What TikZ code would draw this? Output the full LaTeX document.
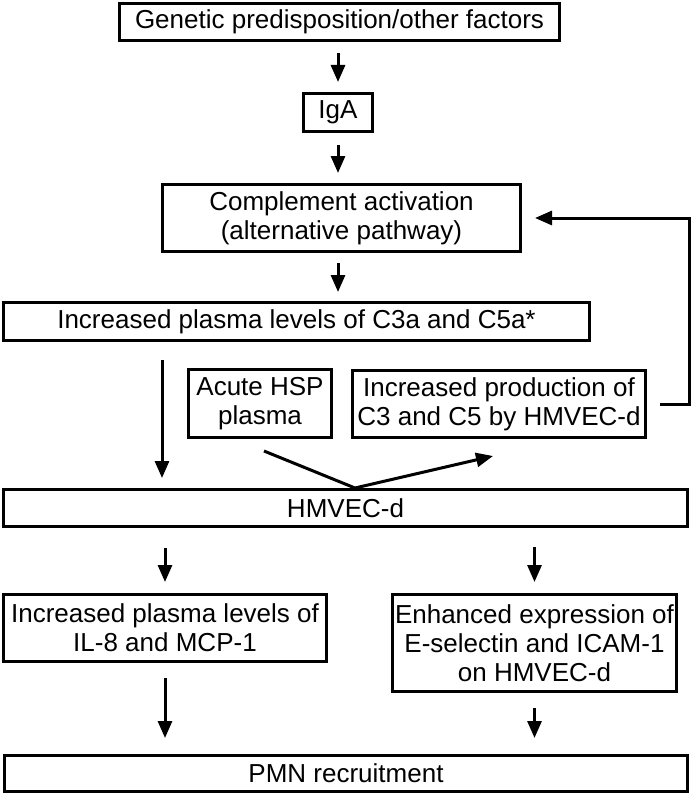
\documentclass[tikz,border=0pt]{standalone}
\usepackage{fontspec}
\setmainfont{Liberation Sans}
\usetikzlibrary{arrows.meta,positioning,calc}

\begin{document}
\begin{tikzpicture}[x=1pt,y=-1pt,
  flowbox/.style={draw,line width=3pt,inner sep=0pt,align=center,
    font=\fontsize{26}{29}\selectfont},
  flowarr/.style={line width=3pt,-{Triangle[length=17pt,width=14pt]}}]
\useasboundingbox (0,0) rectangle (691,797);
\node[flowbox,minimum width=440pt,minimum height=37pt] (genfac) at (339.5,22) {Genetic predisposition/other factors};
\node[flowbox,minimum width=69pt,minimum height=38pt] (iga) at (338,112.5) {IgA};
\node[flowbox,minimum width=358pt,minimum height=67pt] (compl) at (341.5,218) {Complement activation\\(alternative pathway)};
\node[flowbox,minimum width=586pt,minimum height=38pt] (plasmaC) at (296.5,321.5) {Increased plasma levels of C3a and C5a*};
\node[flowbox,minimum width=143pt,minimum height=68pt] (hsp) at (260,403.5) {Acute HSP\\plasma};
\node[flowbox,minimum width=293pt,minimum height=67pt] (prodC) at (499,404) {Increased production of\\C3 and C5 by HMVEC-d};
\node[flowbox,minimum width=684pt,minimum height=37pt] (hmvec) at (345.5,508) {HMVEC-d};
\node[flowbox,minimum width=323pt,minimum height=67pt] (ilmcp) at (165,628) {Increased plasma levels of\\IL-8 and MCP-1};
\node[flowbox,minimum width=284pt,minimum height=97pt] (esel) at (534.5,643) {Enhanced expression of\\E-selectin and ICAM-1\\on HMVEC-d};
\node[flowbox,minimum width=683pt,minimum height=36pt] (pmn) at (346,773.5) {PMN recruitment};
\coordinate (vtx) at ($(hmvec.north)+(9.5,0)$);

\draw[flowarr] ($(genfac.south -| iga.north)+(0,11)$) -- ($(iga.north)+(0,-10)$);
\draw[flowarr] ($(iga.south)+(0,12)$) -- ($(iga.south |- compl.north)+(0,-10)$);
\draw[flowarr] ($(compl.south -| iga.south)+(0,10)$) -- ($(iga.south |- plasmaC.north)+(0,-9)$);
\draw[flowarr] ($(plasmaC.south -| ilmcp.north)+(-3,18)$) -- ($(hmvec.north -| ilmcp.north)+(-3,-10)$);
\draw[flowarr] ($(hsp.south)+(4,12)$) -- (vtx) -- ($(prodC.south)+(-6,17)$);
\draw[flowarr] ($(prodC.east)+(13,0)$) -- ++(29.5,0) |- ($(compl.east)+(13,0)$);
\draw[flowarr] ($(hmvec.south -| ilmcp.north)+(0,20)$) -- ($(ilmcp.north)+(0,-11)$);
\draw[flowarr] ($(hmvec.south -| esel.north)+(0,19)$) -- ($(esel.north)+(0,-11)$);
\draw[flowarr] ($(ilmcp.south)+(0,15)$) -- ($(ilmcp.south |- pmn.north)+(0,-16)$);
\draw[flowarr] ($(esel.south)+(0,15)$) -- ($(esel.south |- pmn.north)+(0,-16)$);
\end{tikzpicture}
\end{document}
